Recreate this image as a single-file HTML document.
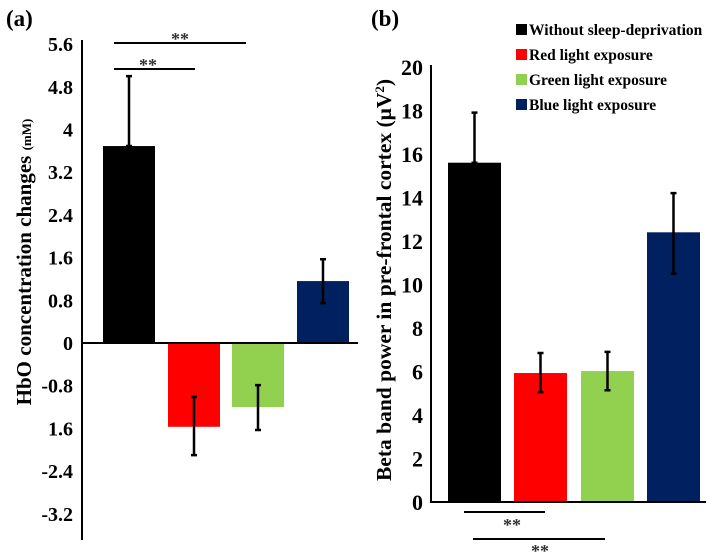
<!DOCTYPE html>
<html><head><meta charset="utf-8"><style>
html,body{margin:0;padding:0;background:#fff;}
svg{display:block;font-family:"Liberation Serif",serif;font-weight:bold;}
</style></head><body>
<svg id="chart" width="712" height="553" viewBox="0 0 712 553">
<g id="pa"></g>
<g id="pb"></g>
</svg>
<script>
const categories = ["Without sleep-deprivation","Red light exposure","Green light exposure","Blue light exposure"];
const colors = ["#000000","#ff0000","#92d050","#002060"];
const hboValues = [3.69, -1.57, -1.2, 1.16];
const hboErrHigh = [5.0, -1.01, -0.79, 1.57];
const hboErrLow = [3.69, -2.10, -1.63, 0.75];
const hboTicks = [5.6,4.8,4,3.2,2.4,1.6,0.8,0,-0.8,-1.6,-2.4,-3.2];
const hboTickLabels = ["5.6","4.8","4","3.2","2.4","1.6","0.8","0","-0.8","1.6","-2.4","-3.2"];
const betaValues = [15.6, 5.93, 6.02, 12.4];
const betaErrHigh = [17.9, 6.85, 6.9, 14.2];
const betaErrLow = [15.6, 5.05, 5.14, 10.5];
const betaTicks = [0,2,4,6,8,10,12,14,16,18,20];

const NS="http://www.w3.org/2000/svg";
function mk(parent,tag,attrs,text){const e=document.createElementNS(NS,tag);for(const k in attrs)e.setAttribute(k,attrs[k]);if(text!==undefined)e.textContent=text;parent.appendChild(e);return e;}

// Panel A
const pa=document.getElementById('pa');
const yA=v=>343-(v)*(42.7/0.8);
const barAx=[103,168,232,297], bw=52;
let t=mk(pa,'text',{x:6,y:26,'font-size':23});t.textContent='(a)';

hboTicks.forEach((v,i)=>{
  const e=mk(pa,'text',{x:73,y:yA(v)+7,'font-size':20,'text-anchor':'end'},hboTickLabels[i]);
  
  
});
hboValues.forEach((v,i)=>{
  const top=Math.min(yA(v),yA(0)),h=Math.abs(yA(v)-yA(0));
  const r=mk(pa,'rect',{x:barAx[i],y:top,width:bw,height:h,fill:colors[i]});
  
  
  const cx=barAx[i]+bw/2;
  const l=mk(pa,'path',{d:`M${cx} ${yA(hboErrHigh[i])}V${yA(hboErrLow[i])}M${cx-3} ${yA(hboErrHigh[i])}h6M${cx-3} ${yA(hboErrLow[i])}h6`,stroke:'#000','stroke-width':2.5,fill:'none'});
  
  
});
let ax=mk(pa,'line',{x1:82,y1:40,x2:82,y2:540,stroke:'#000','stroke-width':2});

let zx=mk(pa,'line',{x1:82,y1:yA(0),x2:358,y2:yA(0),stroke:'#000','stroke-width':2});

let s1=mk(pa,'path',{d:'M114 43H246M114 69H195',stroke:'#000','stroke-width':2});

let st1=mk(pa,'text',{x:180,y:45,'font-size':18,'text-anchor':'middle',fill:'#333'},'**');

let st2=mk(pa,'text',{x:148,y:71,'font-size':18,'text-anchor':'middle',fill:'#333'},'**');

let ta=mk(pa,'text',{x:0,y:0,'font-size':21,'text-anchor':'middle',transform:'translate(31,262) rotate(-90)'});
ta.innerHTML='HbO concentration changes <tspan font-size="13">(mM)</tspan>';


// Panel B
const pb=document.getElementById('pb');
const yB=v=>502-v*21.75;
const barBx=[448,514,581,647], bw2=53;
t=mk(pb,'text',{x:371,y:26,'font-size':23},'(b)');

betaTicks.forEach(v=>{
  const e=mk(pb,'text',{x:423,y:yB(v)+8,'font-size':22,'text-anchor':'end'},String(v));
  
  
});
betaValues.forEach((v,i)=>{
  const r=mk(pb,'rect',{x:barBx[i],y:yB(v),width:bw2,height:yB(0)-yB(v),fill:colors[i]});
  
  
  const cx=barBx[i]+bw2/2;
  const l=mk(pb,'path',{d:`M${cx} ${yB(betaErrHigh[i])}V${yB(betaErrLow[i])}M${cx-3} ${yB(betaErrHigh[i])}h6M${cx-3} ${yB(betaErrLow[i])}h6`,stroke:'#000','stroke-width':2.5,fill:'none'});
  
  
});
ax=mk(pb,'line',{x1:431,y1:65,x2:431,y2:503,stroke:'#000','stroke-width':2});

zx=mk(pb,'line',{x1:430,y1:yB(0),x2:706,y2:yB(0),stroke:'#000','stroke-width':2});

s1=mk(pb,'path',{d:'M464 512H545M473 539H605',stroke:'#000','stroke-width':2});

st1=mk(pb,'text',{x:512,y:531,'font-size':18,'text-anchor':'middle',fill:'#333'},'**');

st2=mk(pb,'text',{x:540,y:557,'font-size':18,'text-anchor':'middle',fill:'#333'},'**');

let tb=mk(pb,'text',{x:0,y:0,'font-size':21.5,'text-anchor':'middle',transform:'translate(391,280) rotate(-90)'});
tb.innerHTML='Beta band power in pre-frontal cortex (μV<tspan font-size="13" dy="-7">2</tspan><tspan dy="7">)</tspan>';

const legY=[30,55,80,105];
categories.forEach((c,i)=>{
  const g=mk(pb,'g',{});
  
  
  mk(g,'rect',{x:516,y:legY[i]-6,width:11,height:11,fill:colors[i]});
  mk(g,'text',{x:529,y:legY[i]+5,'font-size':15.5},c);
});
</script>
</body></html>
